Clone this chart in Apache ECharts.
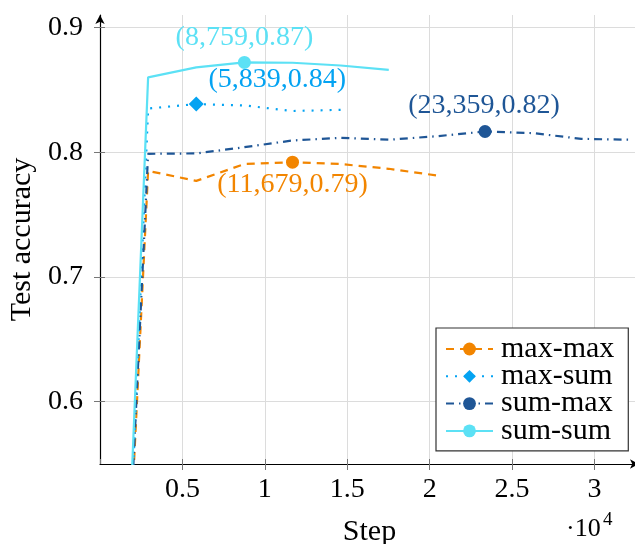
<!DOCTYPE html>
<html>
<head>
<meta charset="utf-8">
<script src="https://cdn.jsdelivr.net/npm/echarts@6/dist/echarts.min.js"></script>
<style>
html,body{margin:0;padding:0;background:#fff;}
#main{width:635px;height:544px;}
</style>
</head>
<body>
<div id="main"></div>
<script>
// ---- data ----
var seriesNames = ['max-max', 'max-sum', 'sum-max', 'sum-sum'];
var steps = [1459, 2919, 5839, 8759, 11679, 14599, 17519, 20439, 23359, 26279, 29199, 32119];
var maxMax = [0.385, 0.785, 0.777, 0.7905, 0.792, 0.7905, 0.7867, 0.7813];
var maxSum = [0.368, 0.835, 0.8386, 0.8375, 0.833, 0.834];
var sumMax = [0.392, 0.7987, 0.799, 0.804, 0.8094, 0.8115, 0.810, 0.8128, 0.8166, 0.8153, 0.8107, 0.810];
var sumSum = [0.388, 0.860, 0.868, 0.872, 0.8717, 0.8695, 0.866];
var xTickLabels = ['0.5', '1', '1.5', '2', '2.5', '3'];
var yTickValues = [0.6, 0.7, 0.8, 0.9];
var xScaleText = '·10';
var xScaleExp = '4';

var colors = ['#f28500', '#04a3f2', '#1f5696', '#5ce1f5'];
var dashes = [[8, 6], [2, 7], [8, 5, 1.5, 5], 'solid'];
var symbols = ['circle', 'diamond', 'circle', 'circle'];
var labelOffsets = [[0, 22], [81, -24], [-1, -26], [0, -25]];
var FONT = '"Liberation Serif", "DejaVu Serif", serif';
var FS_NUM = 28;
var FS_TXT = 30;

function fmt(p) {
  var s = p.value[0], v = p.value[1];
  return '(' + s.toLocaleString('en-US') + ',' + v.toFixed(2) + ')';
}

function buildData(vals, idx) {
  var maxI = 0;
  vals.forEach(function (v, i) { if (v > vals[maxI]) maxI = i; });
  return vals.map(function (v, i) {
    if (i === maxI) {
      return {
        value: [steps[i], v],
        label: {
          show: true, position: 'inside', offset: labelOffsets[idx],
          formatter: fmt, color: colors[idx], fontFamily: FONT, fontSize: FS_NUM
        }
      };
    }
    return { value: [steps[i], v], symbol: 'none' };
  });
}

var allVals = [maxMax, maxSum, sumMax, sumSum];
var series = allVals.map(function (vals, i) {
  return {
    name: seriesNames[i],
    type: 'line',
    xAxisIndex: 0,
    yAxisIndex: 0,
    data: buildData(vals, i),
    symbol: symbols[i],
    symbolSize: i === 1 ? 15 : 13,
    showSymbol: true,
    showAllSymbol: true,
    clip: true,
    animation: false,
    z: 3 + (i === 3 ? 1 : 0),
    lineStyle: { color: colors[i], width: 2.2, type: dashes[i] },
    itemStyle: { color: colors[i] },
    emphasis: { disabled: true }
  };
});

var xMin = 0, xMax = 32700, yMin = 0.55, yMax = 0.91;
var GRID = { left: 100, top: 15, width: 539, height: 449, containLabel: false, outerBoundsMode: 'none' };

var chart = echarts.init(document.getElementById('main'), null, { renderer: 'canvas' });
chart.setOption({
  animation: false,
  color: colors,
  grid: GRID,
  xAxis: [{
    type: 'value', min: xMin, max: xMax, interval: 5000,
    name: 'Step', nameLocation: 'middle', nameGap: 53,
    nameTextStyle: { fontFamily: FONT, fontSize: FS_TXT, color: '#000' },
    axisLine: { show: true, symbol: ['none', 'arrow'], symbolSize: [7, 9], lineStyle: { color: '#000', width: 1.2 } },
    axisTick: { show: true, inside: false, length: 6, lineStyle: { color: '#777', width: 1 } },
    axisLabel: {
      margin: 12, fontFamily: FONT, fontSize: FS_NUM, color: '#000',
      showMinLabel: false, showMaxLabel: false,
      formatter: function (v) { var i = Math.round(v / 5000) - 1; return xTickLabels[i] || ''; }
    },
    splitLine: { show: true, showMinLine: false, showMaxLine: false, lineStyle: { color: '#dcdcdc', width: 1 } }
  }, {
    type: 'value', min: xMin, max: xMax, interval: 5000, position: 'bottom',
    axisLine: { show: false },
    axisTick: { show: true, inside: true, length: 5, lineStyle: { color: '#777', width: 1 } },
    axisLabel: { show: false },
    splitLine: { show: false }
  }],
  yAxis: [{
    type: 'value', min: yMin, max: yMax, splitNumber: 4,
    name: 'Test accuracy', nameLocation: 'middle', nameGap: 63,
    nameTextStyle: { fontFamily: FONT, fontSize: FS_TXT, color: '#000' },
    axisLine: { show: true, symbol: ['none', 'arrow'], symbolSize: [7, 9], lineStyle: { color: '#000', width: 1.2 } },
    axisTick: { show: true, inside: false, length: 6, customValues: yTickValues, lineStyle: { color: '#777', width: 1 } },
    axisLabel: {
      margin: 17, fontFamily: FONT, fontSize: FS_NUM, color: '#000', customValues: yTickValues,
      formatter: function (v) { return v.toFixed(1); }
    },
    splitLine: { show: true, showMinLine: true, showMaxLine: true, lineStyle: { color: '#dcdcdc', width: 1 } }
  }, {
    type: 'value', min: yMin, max: yMax, splitNumber: 4, position: 'left', offset: 0,
    axisLine: { show: false },
    axisTick: { show: true, inside: true, length: 5, customValues: yTickValues, lineStyle: { color: '#777', width: 1 } },
    axisLabel: { show: false },
    splitLine: { show: false }
  }],
  legend: {
    show: true, orient: 'vertical', left: 436, top: 328,
    padding: [6, 14, 5, 9], itemGap: -2.7, itemWidth: 47, itemHeight: 16,
    borderColor: '#333', borderWidth: 1.2, backgroundColor: '#fff',
    data: seriesNames,
    textStyle: { fontFamily: FONT, fontSize: FS_TXT, color: '#000', padding: [0, 0, 0, 3] }
  },
  graphic: [
    { type: 'text', x: 566, y: 529.5, style: { text: xScaleText, fontFamily: FONT, fontSize: 26, fill: '#000', textAlign: 'left', textVerticalAlign: 'middle' } },
    { type: 'text', x: 603, y: 520, style: { text: xScaleExp, fontFamily: FONT, fontSize: 19, fill: '#000', textAlign: 'left', textVerticalAlign: 'middle' } }
  ],
  series: series
});
</script>
</body>
</html>
